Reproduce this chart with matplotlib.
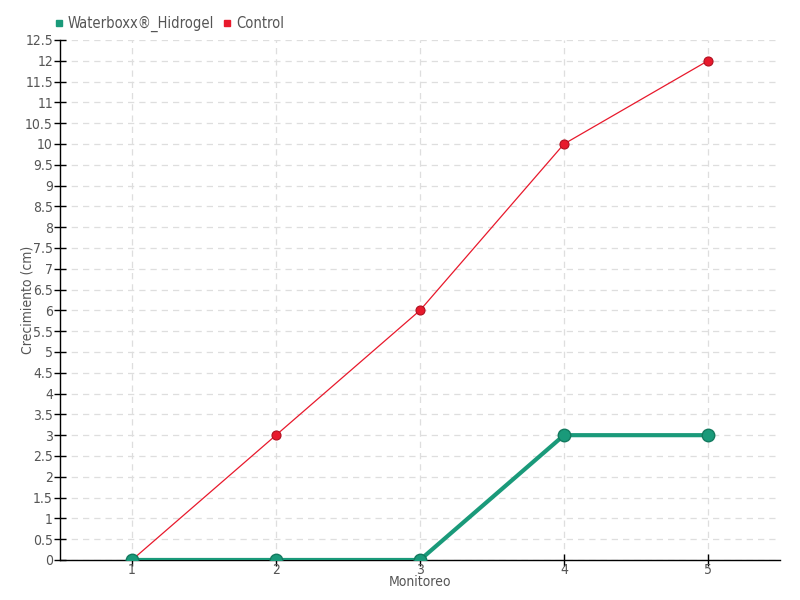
import matplotlib
matplotlib.use("Agg")
import matplotlib.pyplot as plt
from matplotlib.lines import Line2D

x = [1, 2, 3, 4, 5]
waterboxx = [0, 0, 0, 3, 3]
control = [0, 3, 6, 10, 12]
yticks = [i * 0.5 for i in range(26)]
ylabels = [("%g" % v) for v in yticks]

plt.rcParams['font.family'] = ['DejaVu Sans']
plt.rcParams['font.stretch'] = 'condensed'
fig = plt.figure(figsize=(8, 6), dpi=100)
ax = fig.add_axes([0.075, 0.0667, 0.9, 0.8667])

green = '#1a9a7a'
red = '#e8192c'
ax.plot(x, control, color=red, lw=0.9, marker='o', ms=6.5, mfc=red, mec='#b01020', mew=0.8, zorder=3)
ax.plot(x, waterboxx, color=green, lw=3, marker='o', ms=9, mfc=green, mec='#137a5f', mew=1, zorder=4)

ax.set_xlim(0.5, 5.5)
ax.set_ylim(0, 12.5)
ax.set_xticks(x)
ax.set_xticklabels([str(v) for v in x])
ax.set_yticks(yticks)
ax.set_yticklabels(ylabels)
ax.grid(True, color='#dedede', linestyle=(0, (5, 4)), lw=0.9)
ax.set_axisbelow(True)
for s in ['top', 'right']:
    ax.spines[s].set_visible(False)
for s in ['left', 'bottom']:
    ax.spines[s].set_color('black')
    ax.spines[s].set_linewidth(1)
ax.tick_params(axis='both', direction='inout', length=8, width=1, colors='black',
               labelcolor='#555555', labelsize=10)
ax.tick_params(axis='x', pad=-2)
ax.tick_params(axis='y', pad=1)
ax.set_xlabel('Monitoreo', color='#555555', fontsize=10, labelpad=-1)
ax.set_ylabel('Crecimiento (cm)', color='#555555', fontsize=10, labelpad=2)
ax.yaxis.set_label_coords(-0.035, 0.5)

handles = [Line2D([], [], ls='none', marker='s', ms=5, color=green),
           Line2D([], [], ls='none', marker='s', ms=5, color=red)]
fig.legend(handles, ['Waterboxx®_Hidrogel', 'Control'], loc='upper left',
           bbox_to_anchor=(0.052, 0.995), ncol=2, frameon=False, handlelength=0.6,
           handletextpad=0.3, columnspacing=0.6, fontsize=10.5, labelcolor='#555555')

fig.savefig('out.png')
